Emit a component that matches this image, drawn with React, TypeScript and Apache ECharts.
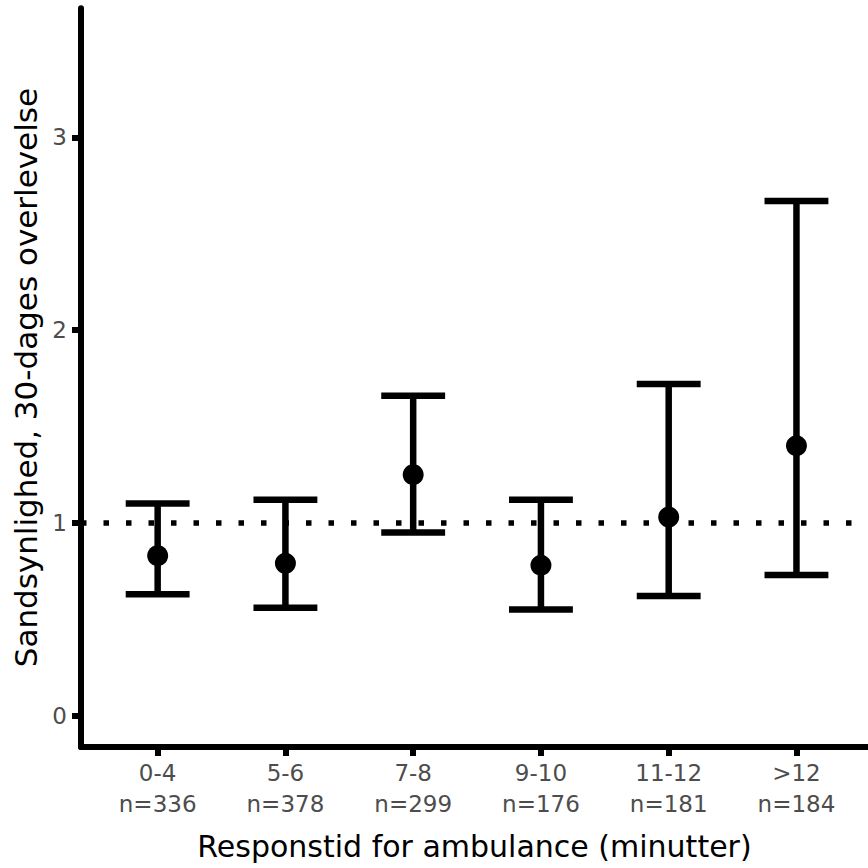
import React, { useEffect, useRef } from "react";
import * as echarts from "echarts";

const categories = ["0-4", "5-6", "7-8", "9-10", "11-12", ">12"];
const sampleSizes = ["n=336", "n=378", "n=299", "n=176", "n=181", "n=184"];
const estimates = [0.83, 0.79, 1.25, 0.78, 1.03, 1.4];
const lowerCI = [0.63, 0.56, 0.95, 0.55, 0.62, 0.73];
const upperCI = [1.1, 1.12, 1.66, 1.12, 1.72, 2.67];
const yTicks = [0, 1, 2, 3];
const referenceValue = 1;
const xPositions = categories.map((_, i) => i + 1);

const FONT = "DejaVu Sans";

export default function App() {
  const ref = useRef<HTMLDivElement>(null);
  useEffect(() => {
    if (!ref.current) return;
    const chart = echarts.init(ref.current, undefined, { renderer: "svg" });
    const errData = categories.map((_, i) => [xPositions[i], lowerCI[i], upperCI[i]]);
    const pointData = categories.map((_, i) => [xPositions[i], estimates[i]]);
    chart.setOption({
      animation: false,
      backgroundColor: "#ffffff",
      grid: { left: 81, right: 0, top: 8.3, bottom: 121, containLabel: false },
      xAxis: {
        type: "value",
        min: 0.4,
        max: 6.56,
        name: "Responstid for ambulance (minutter)",
        nameLocation: "middle",
        nameGap: 84,
        nameTextStyle: { fontFamily: FONT, fontSize: 30, color: "#000000" },
        axisLine: { show: true, onZero: false, lineStyle: { color: "#000000", width: 6 } },
        axisTick: { show: true, length: 9, customValues: xPositions, lineStyle: { color: "#000000", width: 6 } },
        axisLabel: {
          customValues: xPositions,
          margin: 10,
          fontFamily: FONT,
          fontSize: 23,
          lineHeight: 31,
          color: "#4d4d4d",
          formatter: (v: number) => {
            const i = Math.round(v) - 1;
            return categories[i] !== undefined ? categories[i] + "\n" + sampleSizes[i] : "";
          },
        },
        splitLine: { show: false },
      },
      yAxis: {
        type: "value",
        min: -0.163,
        max: 3.67,
        name: "Sandsynlighed, 30-dages overlevelse",
        nameLocation: "middle",
        nameGap: 40,
        nameTextStyle: { fontFamily: FONT, fontSize: 31, color: "#000000" },
        axisLine: { show: true, onZero: false, lineStyle: { color: "#000000", width: 6 } },
        axisTick: { show: true, length: 9, customValues: yTicks, lineStyle: { color: "#000000", width: 6 } },
        axisLabel: {
          customValues: yTicks,
          margin: 14,
          fontFamily: FONT,
          fontSize: 23,
          color: "#4d4d4d",
        },
        splitLine: { show: false },
      },
      series: [
        {
          type: "custom",
          z: 3,
          data: errData,
          encode: { x: 0, y: [1, 2] },
          renderItem: (params: any, api: any) => {
            const x = api.value(0);
            const lo = api.coord([x, api.value(1)]);
            const hi = api.coord([x, api.value(2)]);
            const half = api.size([0.5, 0])[0] / 2;
            const style = { stroke: "#000000", lineWidth: 6.5, lineCap: "butt" };
            return {
              type: "group",
              children: [
                { type: "line", shape: { x1: lo[0], y1: lo[1], x2: hi[0], y2: hi[1] }, style },
                { type: "line", shape: { x1: hi[0] - half, y1: hi[1], x2: hi[0] + half, y2: hi[1] }, style },
                { type: "line", shape: { x1: lo[0] - half, y1: lo[1], x2: lo[0] + half, y2: lo[1] }, style },
              ],
            };
          },
        },
        {
          type: "scatter",
          z: 4,
          data: pointData,
          symbol: "circle",
          symbolSize: 21,
          itemStyle: { color: "#000000", opacity: 1 },
          markLine: {
            silent: true,
            symbol: "none",
            label: { show: false },
            z: 1,
            lineStyle: { color: "#000000", width: 5.5, type: [5.5, 17], cap: "butt", opacity: 1 },
            data: [{ yAxis: referenceValue }],
          },
        },
      ],
    });
    return () => chart.dispose();
  }, []);
  return (
    <div
      ref={ref}
      style={{ position: "fixed", left: 0, top: 0, width: 868, height: 868, background: "#fff" }}
    />
  );
}
